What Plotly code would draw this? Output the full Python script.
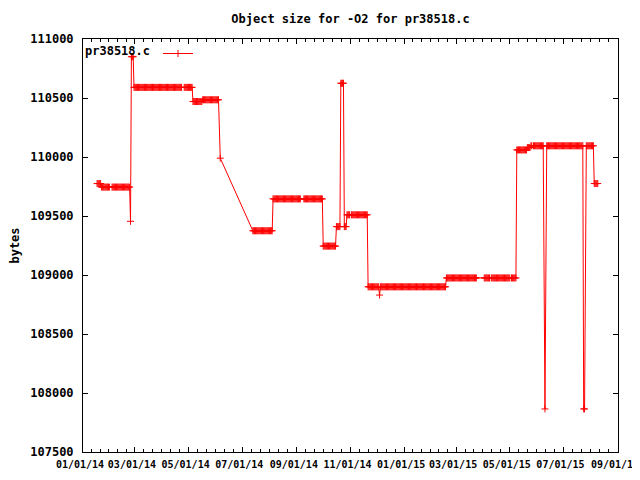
import pandas as pd
import plotly.graph_objects as go

# Runs of daily measurements (start date, end date, object size in bytes)
run_start = ["2014-01-17", "2014-01-22", "2014-02-03", "2014-02-24", "2014-02-25",
             "2014-02-28", "2014-04-26", "2014-05-06", "2014-05-17", "2014-06-06",
             "2014-07-13", "2014-08-05", "2014-09-09", "2014-10-01", "2014-10-16",
             "2014-10-21", "2014-10-25", "2014-10-28", "2014-11-02", "2014-11-21",
             "2014-12-04", "2014-12-05", "2015-02-18", "2015-04-02", "2015-04-10",
             "2015-05-03", "2015-05-09", "2015-05-21", "2015-05-25", "2015-05-28",
             "2015-06-10", "2015-06-12", "2015-07-24", "2015-07-27", "2015-08-05"]
run_end = ["2014-01-21", "2014-01-31", "2014-02-23", "2014-02-24", "2014-02-27",
           "2014-04-23", "2014-05-05", "2014-05-16", "2014-06-04", "2014-06-06",
           "2014-08-04", "2014-09-05", "2014-09-30", "2014-10-15", "2014-10-20",
           "2014-10-24", "2014-10-27", "2014-10-31", "2014-11-20", "2014-12-03",
           "2014-12-04", "2015-02-17", "2015-03-24", "2015-04-08", "2015-05-01",
           "2015-05-08", "2015-05-20", "2015-05-24", "2015-05-26", "2015-06-08",
           "2015-06-10", "2015-07-23", "2015-07-25", "2015-08-04", "2015-08-09"]
run_value = [109775, 109745, 109745, 109455, 110850,
             110590, 110590, 110470, 110485, 109990,
             109375, 109645, 109645, 109245, 109410,
             110625, 109410, 109510, 109510, 108900,
             108830, 108900, 108975, 108975, 108975,
             108975, 110060, 110080, 110095, 110095,
             107865, 110095, 107865, 110095, 109775]

major_ticks = ["2014-01-01", "2014-03-01", "2014-05-01", "2014-07-01", "2014-09-01",
               "2014-11-01", "2015-01-01", "2015-03-01", "2015-05-01", "2015-07-01",
               "2015-09-01"]

dates, sizes = [], []
for s, e, v in zip(run_start, run_end, run_value):
    for d in pd.date_range(s, e, freq="D"):
        dates.append(d)
        sizes.append(v)

# minor ticks: 6 subdivisions between major ticks
minor_vals = []
mt = [pd.Timestamp(t) for t in major_ticks]
for a, b in zip(mt[:-1], mt[1:]):
    step = (b - a) / 6
    for k in range(1, 6):
        minor_vals.append(a + step * k)

FONT = dict(family="DejaVu Sans Mono", size=12, color="black", weight="bold")
XFONT = dict(family="DejaVu Sans Mono", size=10, color="black", weight="bold")

fig = go.Figure()
fig.add_trace(go.Scatter(
    x=dates, y=sizes, mode="lines+markers", name=" ",
    line=dict(color="#ff0000", width=1),
    marker=dict(symbol="cross-thin-open", size=5, color="#ff0000",
                line=dict(color="#ff0000", width=1)),
))

# The page body adds an 8px margin, so the figure is sized to fit the window.
fig.update_layout(
    width=632, height=472,
    paper_bgcolor="white", plot_bgcolor="white",
    margin=dict(l=75, r=22, t=31, b=28),
    font=FONT,
    title=dict(text="Object size for -O2 for pr38518.c", x=0.5, xref="paper",
               xanchor="center", y=1 - 11 / 472, yanchor="middle", font=FONT),
    showlegend=True,
    legend=dict(x=0.0, y=1.0, xanchor="left", yanchor="top",
                bgcolor="rgba(0,0,0,0)", borderwidth=0, itemwidth=30,
                title=dict(text="pr38518.c", side="left", font=FONT),
                font=FONT),
    xaxis=dict(
        type="date", range=["2014-01-01", "2015-09-01 00:00:01"],
        tickmode="array", tickvals=major_ticks, tickformat="%m/%d/%y",
        tickangle=0, automargin=False, ticklabeloverflow="allow",
        ticklabelshift=-3,
        showgrid=False, zeroline=False,
        showline=True, linecolor="black", linewidth=1, mirror="ticks",
        ticks="inside", ticklen=5, tickwidth=1, tickcolor="black",
        ticklabelstandoff=3,
        minor=dict(tickmode="array", tickvals=minor_vals, ticks="inside",
                   ticklen=3, tickwidth=1, tickcolor="black", showgrid=False),
        tickfont=XFONT,
    ),
    yaxis=dict(
        range=[107500, 111000], tickmode="linear", tick0=107500, dtick=500,
        tickformat="d", automargin=False,
        showgrid=False, zeroline=False,
        showline=True, linecolor="black", linewidth=1, mirror="ticks",
        ticks="inside", ticklen=5, tickwidth=1, tickcolor="black",
        ticklabelstandoff=6,
        title=dict(text="bytes", font=FONT, standoff=12),
        tickfont=FONT,
    ),
)

fig.write_html("out.html")
